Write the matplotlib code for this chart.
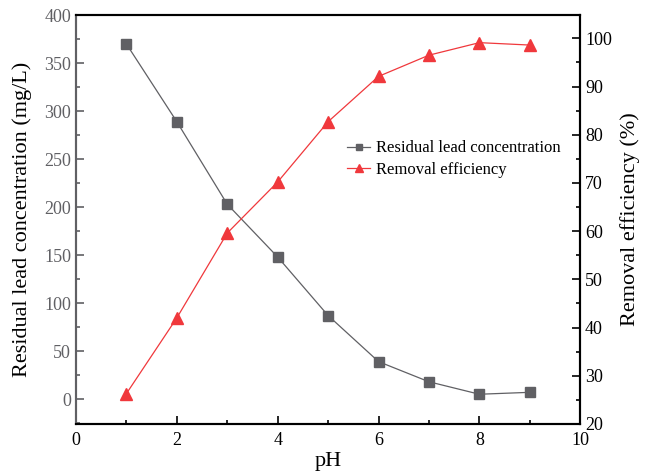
import matplotlib
matplotlib.use("Agg")
import matplotlib.pyplot as plt
from matplotlib.ticker import MultipleLocator

# data
ph = [1, 2, 3, 4, 5, 6, 7, 8, 9]
residual_pb = [370, 289, 203, 148, 87, 39, 18, 5, 7]
removal_eff = [26.3, 42.0, 59.6, 70.2, 82.7, 92.1, 96.5, 99.1, 98.6]

plt.rcParams["font.family"] = ["Liberation Serif", "DejaVu Serif"]
gray = "#606064"
red = "#f0383c"

fig = plt.figure(figsize=(6.46, 4.74), dpi=100)
ax1 = fig.add_axes([0.1176, 0.1055, 0.7806, 0.8625])
ax2 = ax1.twinx()

l1, = ax1.plot(ph, residual_pb, color=gray, marker="s", markersize=7,
               linewidth=0.9, label="Residual lead concentration")
l2, = ax2.plot(ph, removal_eff, color=red, marker="^", markersize=8,
               linewidth=0.9, label="Removal efficiency")

ax1.set_xlim(0, 10)
ax1.set_ylim(-26, 400)
ax2.set_ylim(20, 104.8)

ax1.xaxis.set_major_locator(MultipleLocator(2))
ax1.xaxis.set_minor_locator(MultipleLocator(1))
ax1.yaxis.set_major_locator(MultipleLocator(50))
ax1.yaxis.set_minor_locator(MultipleLocator(25))
ax2.yaxis.set_major_locator(MultipleLocator(10))
ax2.yaxis.set_minor_locator(MultipleLocator(5))

for ax in (ax1, ax2):
    for s in ax.spines.values():
        s.set_linewidth(1.5)
ax1.spines["left"].set_color(gray)
ax2.spines["left"].set_color(gray)

ax1.tick_params(axis="x", which="both", direction="in", labelsize=13, pad=6)
ax1.tick_params(axis="x", which="major", length=6, width=1.2)
ax1.tick_params(axis="x", which="minor", length=3, width=1.2)
ax1.tick_params(axis="y", which="both", direction="in", colors=gray, labelsize=13)
ax1.tick_params(axis="y", which="major", length=6, width=1.2)
ax1.tick_params(axis="y", which="minor", length=3, width=1.2)
ax2.tick_params(axis="y", which="both", direction="in", labelsize=13)
ax2.tick_params(axis="y", which="major", length=6, width=1.2)
ax2.tick_params(axis="y", which="minor", length=3, width=1.2)

ax1.set_xlabel("pH", fontsize=16, labelpad=2)
ax1.set_ylabel("Residual lead concentration (mg/L)", fontsize=16, labelpad=9)
ax2.set_ylabel("Removal efficiency (%)", fontsize=16, labelpad=6)

ax1.legend([l1, l2], [l1.get_label(), l2.get_label()], loc="upper left",
           bbox_to_anchor=(0.524, 0.71), frameon=False, fontsize=12,
           handlelength=1.4, handletextpad=0.35, markerscale=0.7,
           labelspacing=0.35, borderaxespad=0)

fig.savefig("out.png", dpi=100)
